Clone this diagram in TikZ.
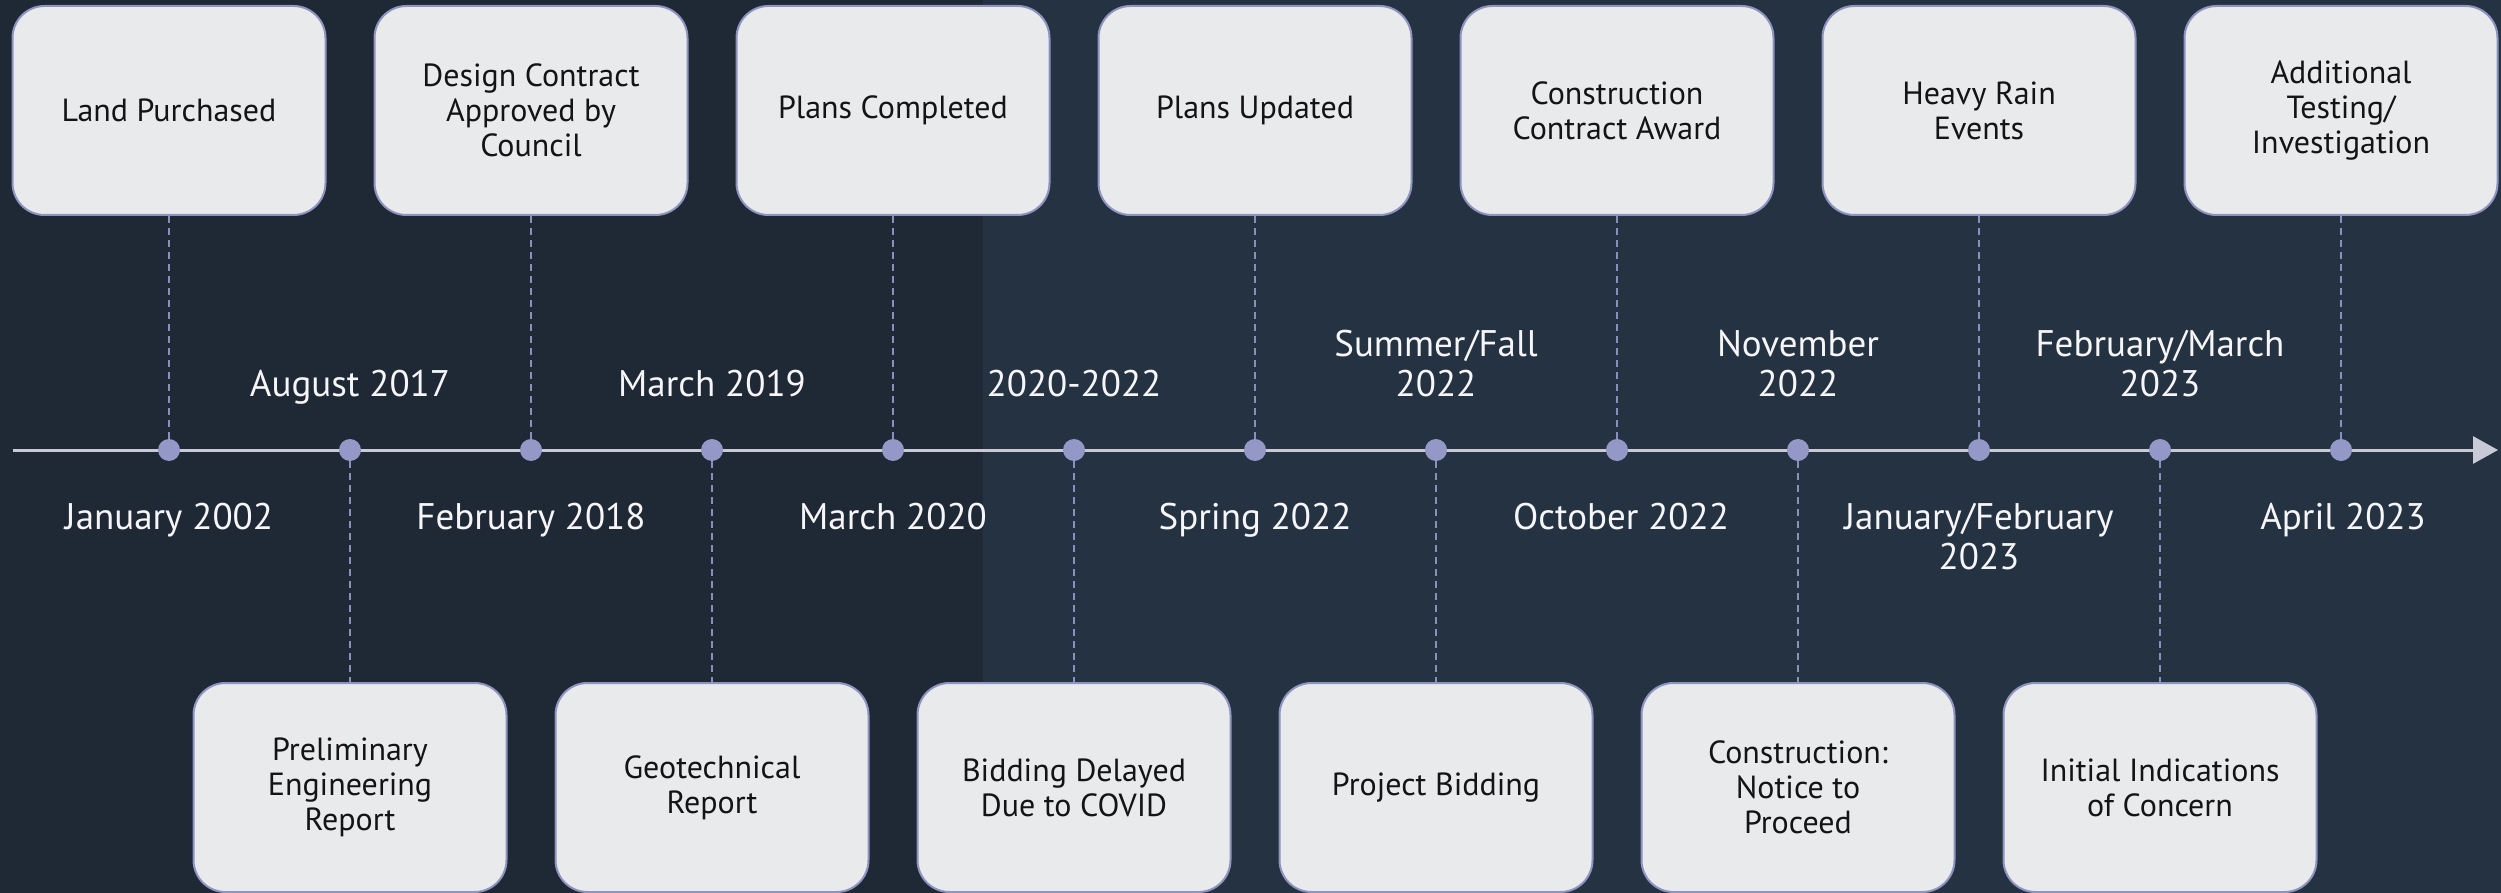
\documentclass[tikz,border=0pt]{standalone}
\usepackage{fontspec}
\setmainfont{PT Sans}
\usetikzlibrary{arrows.meta}
\definecolor{bgL}{RGB}{31,40,53}
\definecolor{bgR}{RGB}{36,50,66}
\definecolor{boxfill}{RGB}{233,234,236}
\definecolor{boxdraw}{RGB}{142,147,192}
\definecolor{dotc}{RGB}{147,152,198}
\definecolor{dashc}{RGB}{138,144,190}
\definecolor{linec}{RGB}{200,202,216}
\definecolor{datec}{RGB}{246,246,248}
\definecolor{boxtext}{RGB}{20,20,22}
\tikzset{
  evbox/.style={draw=boxdraw, line width=1pt, fill=boxfill, rounded corners=16pt,
    minimum width=156.5pt, minimum height=104.5pt, inner sep=0pt, align=center,
    font=\fontsize{16}{17.5}\selectfont, text=boxtext},
  tdot/.style={circle, fill=dotc, minimum size=11pt, inner sep=0pt},
  conn/.style={draw=dashc, dash pattern=on 3.5pt off 2.5pt, line width=0.9pt},
  dateup/.style={anchor=south, inner sep=0pt, text depth=0pt, align=center,
    font=\fontsize{18.5}{20}\selectfont, text=datec},
  datedn/.style={anchor=base, inner sep=0pt, align=center,
    font=\fontsize{18.5}{20}\selectfont, text=datec},
  tline/.style={draw=linec, line width=1.5pt, -{Triangle[length=12.5pt,width=13.5pt]}}
}
\begin{document}
\begin{tikzpicture}[x=0.5pt,y=-0.5pt]
\useasboundingbox (0,0) rectangle (2501,893);
\fill[bgR] (0,0) rectangle (2501,893);
\fill[bgL] (0,0) rectangle (983,893);
\coordinate (tlstart) at (13,450);
\coordinate (tlend) at (2498,450);
\draw[tline] (tlstart) -- (tlend);
\foreach \i in {0,...,12} {
  \node[tdot] (d\i) at ({169+181*\i},450) {};
}
% top boxes
\node[evbox] (b0) at (169,110.5) {Land Purchased};
\node[evbox] (b2) at (531,110.5) {Design Contract\\Approved by\\Council};
\node[evbox] (b4) at (893,110.5) {Plans Completed};
\node[evbox] (b6) at (1255,110.5) {Plans Updated};
\node[evbox] (b8) at (1617,110.5) {Construction\\Contract Award};
\node[evbox] (b10) at (1979,110.5) {Heavy Rain\\Events};
\node[evbox] (b12) at (2341,110.5) {Additional\\Testing/\\Investigation};
% bottom boxes
\node[evbox] (b1) at (350,787.5) {Preliminary\\Engineering\\Report};
\node[evbox] (b3) at (712,787.5) {Geotechnical\\Report};
\node[evbox] (b5) at (1074,787.5) {Bidding Delayed\\Due to COVID};
\node[evbox] (b7) at (1436,787.5) {Project Bidding};
\node[evbox] (b9) at (1798,787.5) {Construction:\\Notice to\\Proceed};
\node[evbox] (b11) at (2160,787.5) {Initial Indications\\of Concern};
% connectors
\foreach \i in {0,2,4,6,8,10,12} { \draw[conn] (b\i) -- (d\i); }
\foreach \i in {1,3,5,7,9,11} { \draw[conn] (d\i) -- (b\i); }
% dates above
\node[dateup] (t1) at (350,397) {August 2017};
\node[dateup] (t3) at (712,397) {March 2019};
\node[dateup] (t5) at (1074,397) {2020-2022};
\node[dateup] (t7) at (1436,397) {Summer/Fall\\2022};
\node[dateup] (t9) at (1798,397) {November\\2022};
\node[dateup] (t11) at (2160,397) {February/March\\2023};
% dates below
\node[datedn] (t0) at (169,529) {January 2002};
\node[datedn] (t2) at (531,529) {February 2018};
\node[datedn] (t4) at (893,529) {March 2020};
\node[datedn] (t6) at (1255,529) {Spring 2022};
\node[datedn] (t8) at (1621,529) {October 2022};
\node[datedn] (t10) at (1979,569) {January/February\\2023};
\node[datedn] (t12) at (2343,529) {April 2023};
\end{tikzpicture}
\end{document}
